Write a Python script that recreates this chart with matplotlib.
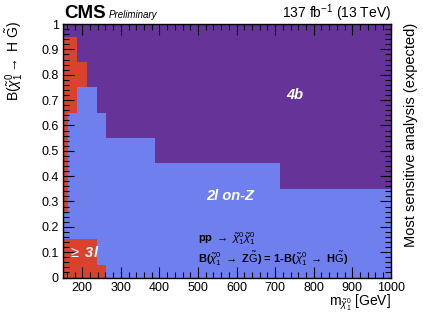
import numpy as np
import matplotlib
matplotlib.use("Agg")
import matplotlib.pyplot as plt
from matplotlib.colors import ListedColormap
from matplotlib.ticker import MultipleLocator, FuncFormatter

# mass bin edges (GeV) and branching-fraction bin edges
mass_edges = [150, 162.5, 187.5, 212.5, 237.5, 262.5, 387.5, 712.5, 1000]
br_edges = [0, 0.05, 0.15, 0.25, 0.35, 0.45, 0.55, 0.65, 0.75, 0.85, 0.95, 1.0]

# most sensitive analysis per cell: 0 = >=3l, 1 = 2l on-Z, 2 = 4b
# one list per mass column, from BR=0 upwards
col_150 = [0, 0, 1, 0, 0, 0, 0, 0, 0, 0, 2]
col_175 = [0, 0, 1, 1, 1, 1, 1, 0, 0, 0, 2]
col_200 = [0, 0, 1, 1, 1, 1, 1, 1, 0, 2, 2]
col_225 = [0, 0, 1, 1, 1, 1, 1, 1, 2, 2, 2]
col_250 = [0, 1, 1, 1, 1, 1, 1, 2, 2, 2, 2]
col_300 = [1, 1, 1, 1, 1, 1, 2, 2, 2, 2, 2]
col_500 = [1, 1, 1, 1, 1, 2, 2, 2, 2, 2, 2]
col_800 = [1, 1, 1, 1, 2, 2, 2, 2, 2, 2, 2]

analysis_names = [r"$\geq$ 3l", "2l on-Z", "4b"]
analysis_colors = ["#D8432E", "#6F7FEE", "#663399"]

plt.rcParams.update({
    "font.family": ["Liberation Sans", "DejaVu Sans"],
    "mathtext.fontset": "custom",
    "mathtext.rm": "Liberation Sans",
    "mathtext.it": "Liberation Sans:italic",
    "mathtext.bf": "Liberation Sans:bold",
})

grid = np.array([col_150, col_175, col_200, col_225, col_250,
                 col_300, col_500, col_800]).T

fig = plt.figure(figsize=(4.23, 3.21), dpi=100)
ax = fig.add_axes([0.149, 0.1355, 0.775, 0.7895])
ax.pcolormesh(mass_edges, br_edges, grid, cmap=ListedColormap(analysis_colors),
              vmin=-0.5, vmax=2.5, shading="flat")
ax.set_xlim(150, 1000)
ax.set_ylim(0, 1)

ax.xaxis.set_major_locator(MultipleLocator(100))
ax.xaxis.set_minor_locator(MultipleLocator(20))
ax.yaxis.set_major_locator(MultipleLocator(0.1))
ax.yaxis.set_minor_locator(MultipleLocator(0.02))
ax.yaxis.set_major_formatter(FuncFormatter(lambda v, p: "%g" % round(v, 2)))
ax.tick_params(which="both", direction="in", top=True, right=True,
               labelsize=9, width=0.8, pad=3)
ax.tick_params(which="major", length=8)
ax.tick_params(which="minor", length=4)
for s in ax.spines.values():
    s.set_linewidth(1.0)

ax.set_ylabel(r"B($\tilde{\chi}^{0}_{1}\rightarrow$ H $\tilde{\mathrm{G}}$)",
              fontsize=10)
ax.yaxis.set_label_coords(-0.15, 1.012)
ax.yaxis.label.set_ha("right")
ax.yaxis.label.set_va("center")
ax.set_xlabel(r"m$_{\tilde{\chi}^{0}_{1}}$ [GeV]", fontsize=10)
ax.xaxis.set_label_coords(1.0, -0.11)
ax.xaxis.label.set_ha("right")
ax.xaxis.label.set_va("baseline")

fig.text(0.972, 0.93, "Most sensitive analysis (expected)", rotation=90,
         ha="center", va="top", fontsize=10.5)

fig.text(0.151, 0.943, "CMS", fontsize=13.5, fontweight="bold", va="baseline")
fig.text(0.256, 0.943, "Preliminary", fontsize=7, style="italic",
         va="baseline")
fig.text(0.924, 0.943, r"137 fb$^{-1}$ (13 TeV)", fontsize=10, ha="right",
         va="baseline")

txt = dict(color="white", fontweight="bold", style="italic", fontsize=10.5)
ax.text(752, 0.72, analysis_names[2], ha="center", va="center", **txt)
ax.text(584, 0.32, analysis_names[1], ha="center", va="center", **txt)
ax.text(163, 0.1, analysis_names[0], ha="left", va="center", **txt)

ax.text(500, 0.155, r"pp $\rightarrow$ $\tilde{\chi}^{0}_{1}\tilde{\chi}^{0}_{1}$",
        fontsize=8, fontweight="bold", va="center")
ax.text(500, 0.075,
        r"B($\tilde{\chi}^{0}_{1}$ $\rightarrow$ Z$\tilde{\mathrm{G}}$) = "
        r"1-B($\tilde{\chi}^{0}_{1}$ $\rightarrow$ H$\tilde{\mathrm{G}}$)",
        fontsize=8, fontweight="bold", va="center")

fig.savefig("out.png", dpi=100)
